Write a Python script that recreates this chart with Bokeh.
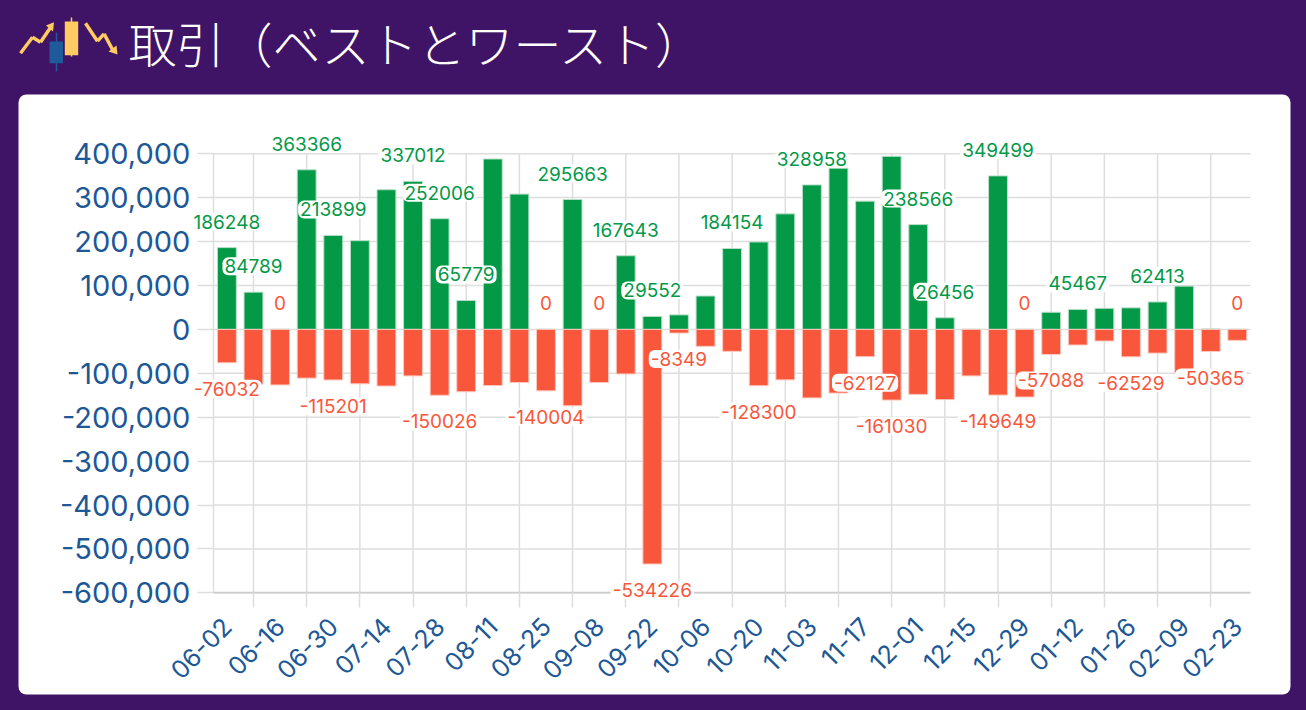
from math import pi
from bokeh.plotting import figure
from bokeh.models import (Range1d, FixedTicker, LinearAxis, NumeralTickFormatter, Label,
                          BoxAnnotation, PolyAnnotation, ColumnDataSource)
from bokeh.embed import file_html
from bokeh.resources import INLINE

TITLE = "取引（ベストとワースト）"
TICK_LABELS = ["06-02","06-16","06-30","07-14","07-28","08-11","08-25","09-08","09-22","10-06",
               "10-20","11-03","11-17","12-01","12-15","12-29","01-12","01-26","02-09","02-23"]
BEST = [186248,84789,0,363366,213899,202000,318000,337012,252006,65779,388000,308000,0,295663,0,
        167643,29552,33000,76000,184154,199000,263000,328958,367000,292000,394000,238566,26456,0,
        349499,0,39000,45467,48000,49000,62413,98500,1000,0]
WORST = [-76032,-125000,-126500,-111000,-115201,-124000,-129000,-106000,-150026,-142000,-128000,
         -121000,-140004,-174000,-121000,-101500,-534226,-8349,-38600,-50000,-128300,-115000,
         -156000,-145000,-62127,-161030,-148000,-160000,-106000,-149649,-154000,-57088,-35600,
         -26500,-62529,-54000,-99000,-50365,-25000]
BEST_SHOWN = [0,1,3,4,7,8,9,13,15,16,19,22,26,27,29,32,35]
ZERO_SHOWN = [2,12,14,30,38]
WORST_SHOWN = [0,4,8,12,16,17,20,24,25,29,31,34,37]
Y_TICKS = list(range(-600000, 400001, 100000))

PURPLE = "#3f1466"; GREEN = "#039947"; RED = "#f9573b"; BLUE = "#1d5896"; GRID = "#dedede"
FONT = "Inter"; JP = "Noto Sans CJK JP"
W, H = 1306, 710

# layout: the frame fills the page so the value labels can overflow the plot area
PX_X0, PX_STEP = 226.4, 26.59       # pixel of bar 0, pixels per bar
PX_TOP, PX_BOT = 153.2, 592.4       # pixels of +400k and -600k
YMAX, YMIN = 400000, -600000
K = (PX_BOT - PX_TOP) / (YMAX - YMIN)
XL = -0.51                            # left end of the plot area in bar units
XR = (1250 - PX_X0) / PX_STEP

idx = list(range(len(BEST)))
p = figure(width=W, height=H, output_backend="svg", toolbar_location=None,
           x_range=Range1d(-PX_X0 / PX_STEP, (W - PX_X0) / PX_STEP),
           y_range=Range1d(YMIN - (H - PX_BOT) / K, YMAX + PX_TOP / K),
           min_border=0, border_fill_color=PURPLE, background_fill_color=PURPLE,
           outline_line_color=None, x_axis_type=None, y_axis_type=None)

# card (screen units run from the frame's lower left corner)
p.add_layout(BoxAnnotation(left=18, right=1290, top=H - 94, bottom=H - 694, left_units="screen",
                           right_units="screen", top_units="screen", bottom_units="screen",
                           fill_color="white", fill_alpha=1, line_color=None, border_radius=8,
                           level="image"))

# grid lines, stopping at the plot area
xticks = list(range(1, 38, 2))
p.segment(x0=xticks, x1=xticks, y0=YMIN, y1=YMAX, line_color=GRID, line_width=1.5, level="underlay")
p.segment(x0=XL, x1=XR, y0=Y_TICKS, y1=Y_TICKS, line_color=GRID, line_width=1.5, level="underlay")

# axes
yax = LinearAxis(ticker=FixedTicker(ticks=Y_TICKS), formatter=NumeralTickFormatter(format="0,0"),
                 fixed_location=XL, bounds=(YMIN, YMAX),
                 major_label_text_font=FONT, major_label_text_font_size="29px",
                 major_label_text_color=BLUE, major_label_standoff=7,
                 major_tick_in=0, major_tick_out=16, major_tick_line_color=GRID,
                 major_tick_line_width=1.5, minor_tick_line_color=None,
                 axis_line_color=GRID, axis_line_width=1.5)
p.add_layout(yax, "left")
xax = LinearAxis(ticker=FixedTicker(ticks=xticks), fixed_location=YMIN, bounds=(XL, XR),
                 major_label_text_color=None, major_label_text_font_size="1px",
                 major_tick_in=0, major_tick_out=15, major_tick_line_color=GRID,
                 major_tick_line_width=1.5, minor_tick_line_color=None,
                 axis_line_color="#cccccc", axis_line_width=1.5)
p.add_layout(xax, "below")
label_ticks = [2 * i - 1 + 1.0 for i in range(len(TICK_LABELS))]
xlab = LinearAxis(ticker=FixedTicker(ticks=label_ticks), fixed_location=YMIN,
                  major_label_overrides=dict(zip(label_ticks, TICK_LABELS)),
                  major_label_orientation=pi / 4, major_label_text_font=FONT,
                  major_label_text_font_size="25px", major_label_text_color=BLUE,
                  major_label_standoff=23, major_tick_line_color=None,
                  minor_tick_line_color=None, axis_line_color=None)
p.add_layout(xlab, "below")

# bars
src = ColumnDataSource(dict(x=idx, best=BEST, worst=WORST))
p.vbar(x="x", bottom=0, top="best", width=0.71, source=src, fill_color=GREEN,
       line_color="#b9dfc9", line_width=1)
p.vbar(x="x", bottom=0, top="worst", width=0.71, source=src, fill_color=RED,
       line_color="#fbc9bf", line_width=1)

# value labels
def val_label(i, v, color, off):
    p.add_layout(Label(x=i, y=v, x_units="data", y_units="data", text=str(v), y_offset=off,
                       text_align="center", text_baseline="middle", text_color=color,
                       text_font=FONT, text_font_size="19px", background_fill_color="white",
                       padding=2, border_radius=6))
for i in BEST_SHOWN:
    val_label(i, BEST[i], GREEN, 26)
for i in ZERO_SHOWN:
    val_label(i, BEST[i], RED, 26)
for i in WORST_SHOWN:
    val_label(i, WORST[i], RED, -26)

# title
p.add_layout(Label(x=128, y=H - 41, x_units="screen", y_units="screen", text=TITLE, text_color="white",
                   text_font="'Noto Sans CJK JP Light','Noto Sans CJK JP'", text_font_size="48px",
                   text_baseline="middle", text_align="left"))

# logo (given in page pixels)
def poly(xs, ys, color):
    p.add_layout(PolyAnnotation(xs=xs, ys=[H - y for y in ys], xs_units="screen", ys_units="screen",
                                fill_color=color, fill_alpha=1, line_color=None))

def stroke(pts, color, w=3.5):
    for (x0, y0), (x1, y1) in zip(pts, pts[1:]):
        L = ((x1 - x0) ** 2 + (y1 - y0) ** 2) ** 0.5
        nx, ny = -(y1 - y0) / L * w / 2, (x1 - x0) / L * w / 2
        poly([x0 + nx, x1 + nx, x1 - nx, x0 - nx], [y0 + ny, y1 + ny, y1 - ny, y0 - ny], color)

Y = "#ffcb62"; B = "#1f5a9a"
stroke([(20, 52.7), (32, 36.7), (40, 41.7), (50, 27)], Y)
poly([45.5, 53.5, 52.5], [25, 21.7, 31], Y)
stroke([(56, 32), (56, 71)], B, 1.5)
poly([49, 62.5, 62.5, 49], [41, 41, 62.7, 62.7], B)
stroke([(71, 17), (71, 56)], Y, 1.5)
poly([64.3, 77.7, 77.7, 64.3], [21, 21, 54.7, 54.7], Y)
stroke([(85, 22.7), (97, 40.7), (103.6, 33.3), (112, 49)], Y)
poly([108, 117, 116], [51, 54, 45], Y)

html = file_html(p, INLINE)
html = html.replace("<head>", "<head><style>html,body{margin:0;padding:0;overflow:hidden;background:%s}</style>" % PURPLE, 1)
open("out.html", "w").write(html)
